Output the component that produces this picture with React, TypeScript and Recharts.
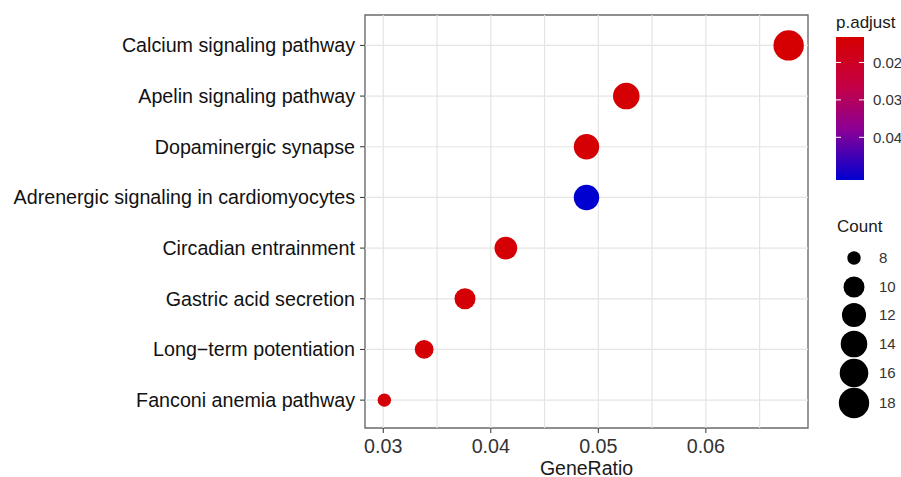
import React from "react";
import {
  ScatterChart,
  Scatter,
  XAxis,
  YAxis,
  ReferenceLine,
  ReferenceArea,
  Label,
} from "recharts";

// ---- data (top to bottom) ----
const categories = [
  "Calcium signaling pathway",
  "Apelin signaling pathway",
  "Dopaminergic synapse",
  "Adrenergic signaling in cardiomyocytes",
  "Circadian entrainment",
  "Gastric acid secretion",
  "Long\u2212term potentiation",
  "Fanconi anemia pathway",
];
const geneRatio = [0.0677, 0.0526, 0.0489, 0.0489, 0.0414, 0.0376, 0.0338, 0.0301];
const counts = [18, 14, 13, 13, 11, 10, 9, 8];
const pAdjust = [0.0136, 0.0138, 0.014, 0.0514, 0.0142, 0.0144, 0.014, 0.0146];

const xTicks = [0.03, 0.04, 0.05, 0.06];
const xGrid = [0.03, 0.035, 0.04, 0.045, 0.05, 0.055, 0.06, 0.065];
const countBreaks = [8, 10, 12, 14, 16, 18];
const pBreaks = [0.02, 0.03, 0.04];

const X_DOMAIN: [number, number] = [0.0283, 0.0695];
const Y_DOMAIN: [number, number] = [0.45, 8.6];

const P_MIN = 0.0132;
const P_MAX = 0.0514;
const C_MIN = 8;
const C_MAX = 18;

const FONT = "'Liberation Sans', Arial, sans-serif";

// colour scale (red -> blue)
const stops: [number, number[]][] = [
  [0, [214, 0, 0]],
  [0.35, [196, 0, 70]],
  [0.65, [138, 0, 150]],
  [1, [0, 0, 208]],
];
function colorFor(p: number): string {
  const t = Math.max(0, Math.min(1, (p - P_MIN) / (P_MAX - P_MIN)));
  for (let i = 0; i < stops.length - 1; i++) {
    const [t0, c0] = stops[i];
    const [t1, c1] = stops[i + 1];
    if (t <= t1) {
      const f = (t - t0) / (t1 - t0);
      const c = c0.map((v, k) => Math.round(v + (c1[k] - v) * f));
      return `rgb(${c[0]},${c[1]},${c[2]})`;
    }
  }
  const c = stops[stops.length - 1][1];
  return `rgb(${c[0]},${c[1]},${c[2]})`;
}

// size scale (area-like, as ggplot)
function radius(count: number): number {
  const t = Math.max(0, (count - C_MIN) / (C_MAX - C_MIN));
  return 6.7 + 8.5 * Math.sqrt(t);
}

const data = categories.map((name, i) => ({
  name,
  y: categories.length - i,
  x: geneRatio[i],
  count: counts[i],
  p: pAdjust[i],
}));

const yTicks = data.map((d) => d.y);
const yLabel = (v: number) => categories[categories.length - v] ?? "";

const Dot = (props: any) => {
  const { cx, cy, payload } = props;
  return <circle cx={cx} cy={cy} r={radius(payload.count)} fill={colorFor(payload.p)} />;
};

const Legends = () => {
  const barTop = 37;
  const barBottom = 180;
  const py = (p: number) => barTop + ((p - P_MIN) / (P_MAX - P_MIN)) * (barBottom - barTop);
  const countY = [258, 287, 315, 344, 373, 403];
  return (
    <svg
      width={901}
      height={477}
      style={{ position: "absolute", left: 0, top: 0, pointerEvents: "none" }}
      fontFamily={FONT}
    >
      <defs>
        <linearGradient id="pgrad" x1="0" y1="0" x2="0" y2="1">
          {stops.map(([t, c], i) => (
            <stop key={i} offset={`${t * 100}%`} stopColor={`rgb(${c[0]},${c[1]},${c[2]})`} />
          ))}
        </linearGradient>
      </defs>
      <text x={836} y={28} fontSize={17} fill="#1a1a1a">
        p.adjust
      </text>
      <rect x={836} y={barTop} width={28} height={barBottom - barTop} fill="url(#pgrad)" />
      {pBreaks.map((p) => (
        <g key={p}>
          <line x1={836} x2={841} y1={py(p)} y2={py(p)} stroke="#fff" strokeWidth={1} />
          <line x1={859} x2={864} y1={py(p)} y2={py(p)} stroke="#fff" strokeWidth={1} />
          <text x={873} y={py(p)} dy="0.35em" fontSize={15} fill="#333">
            {p.toFixed(2)}
          </text>
        </g>
      ))}
      <text x={837} y={232} fontSize={17} fill="#1a1a1a">
        Count
      </text>
      {countBreaks.map((c, i) => (
        <g key={c}>
          <circle cx={854} cy={countY[i]} r={radius(c)} fill="#000" />
          <text x={879} y={countY[i]} dy="0.35em" fontSize={15} fill="#333">
            {c}
          </text>
        </g>
      ))}
    </svg>
  );
};

export default function App() {
  return (
    <div
      style={{
        position: "absolute",
        left: 0,
        top: 0,
        width: 901,
        height: 477,
        background: "#fff",
        overflow: "hidden",
        fontFamily: FONT,
      }}
    >
      <ScatterChart width={901} height={477} margin={{ top: 15, right: 93, bottom: 0, left: 0 }}>
        <XAxis
          type="number"
          dataKey="x"
          domain={X_DOMAIN}
          ticks={xTicks}
          allowDataOverflow
          tickSize={5}
          tickMargin={6}
          axisLine={false}
          tickLine={{ stroke: "#333" }}
          tick={{ fontSize: 19.7, fill: "#333", fontFamily: FONT }}
          tickFormatter={(v: number) => v.toFixed(2)}
          height={49}
        >
          <Label
            value="GeneRatio"
            position="insideBottom"
            offset={2}
            style={{ fontSize: 19.5, fill: "#1a1a1a", fontFamily: FONT }}
          />
        </XAxis>
        <YAxis
          type="number"
          dataKey="y"
          domain={Y_DOMAIN}
          ticks={yTicks}
          allowDataOverflow
          interval={0}
          width={365}
          tickSize={5}
          tickMargin={5}
          axisLine={false}
          tickLine={{ stroke: "#333" }}
          tick={{ fontSize: 19.7, fill: "#111", fontFamily: FONT }}
          tickFormatter={yLabel}
        />
        {xGrid.map((g) => (
          <ReferenceLine key={`gx${g}`} x={g} stroke="#e4e4e4" strokeWidth={1.2} />
        ))}
        {yTicks.map((g) => (
          <ReferenceLine key={`gy${g}`} y={g} stroke="#e4e4e4" strokeWidth={1.2} />
        ))}
        <Scatter data={data} shape={Dot} isAnimationActive={false} />
        <ReferenceArea
          x1={X_DOMAIN[0]}
          x2={X_DOMAIN[1]}
          y1={Y_DOMAIN[0]}
          y2={Y_DOMAIN[1]}
          fill="none"
          fillOpacity={0}
          stroke="#6b6b6b"
          strokeWidth={1.4}
          ifOverflow="visible"
        />
      </ScatterChart>
      <Legends />
    </div>
  );
}
